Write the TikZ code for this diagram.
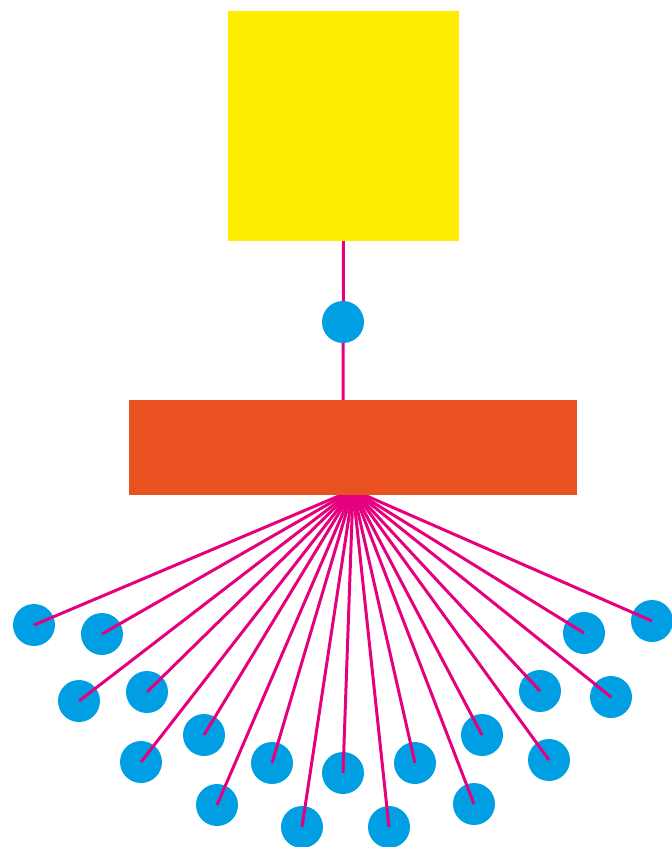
\documentclass[tikz,border=0pt]{standalone}
\usepackage{tikz}
\usetikzlibrary{positioning}
\usepackage{xcolor}

\definecolor{procyellow}{HTML}{FFED00}
\definecolor{procorange}{HTML}{E95120}
\definecolor{proccyan}{HTML}{009FE3}
\definecolor{procmagenta}{HTML}{E5007D}

\begin{document}
\begin{tikzpicture}[x=1pt, y=-1pt,
    dot/.style={circle, fill=proccyan, inner sep=0pt, minimum size=42pt},
    wire/.style={draw=procmagenta, line width=3pt}]
    \useasboundingbox (0,0) rectangle (672,847);

    % The top box and the bar
    \node[rectangle, fill=procyellow, inner sep=0pt, outer sep=0pt, minimum width=231pt, minimum height=230pt] (top) at (343.5,126) {};
    \coordinate (hub) at (353,490);

    % Link from the top box down to the bar, with its dot
    \draw[wire] (top.south) -- (343,400);
    \node[dot] (mid) at (343,322) {};

    % The fan of dots under the bar
    \node[dot] (d1) at (34,625) {};
    \node[dot] (d2) at (102,634) {};
    \node[dot] (d3) at (79,701) {};
    \node[dot] (d4) at (147,692) {};
    \node[dot] (d5) at (141,762) {};
    \node[dot] (d6) at (204,735) {};
    \node[dot] (d7) at (217,805) {};
    \node[dot] (d8) at (272,763) {};
    \node[dot] (d9) at (302,827) {};
    \node[dot] (d10) at (343,773) {};
    \node[dot] (d11) at (389,827) {};
    \node[dot] (d12) at (415,763) {};
    \node[dot] (d13) at (474,804) {};
    \node[dot] (d14) at (482,735) {};
    \node[dot] (d15) at (549,760) {};
    \node[dot] (d16) at (540,691) {};
    \node[dot] (d17) at (611,697) {};
    \node[dot] (d18) at (584,633) {};
    \node[dot] (d19) at (652,621) {};

    % Spokes from the hub to every dot
    \foreach \i in {1,...,19}
        \draw[wire] (hub) -- (d\i.center);

    % The bar goes over the spokes
    \node[rectangle, fill=procorange, inner sep=0pt, outer sep=0pt, minimum width=448pt, minimum height=95pt] (bar) at (353,447.5) {};

\end{tikzpicture}
\end{document}
